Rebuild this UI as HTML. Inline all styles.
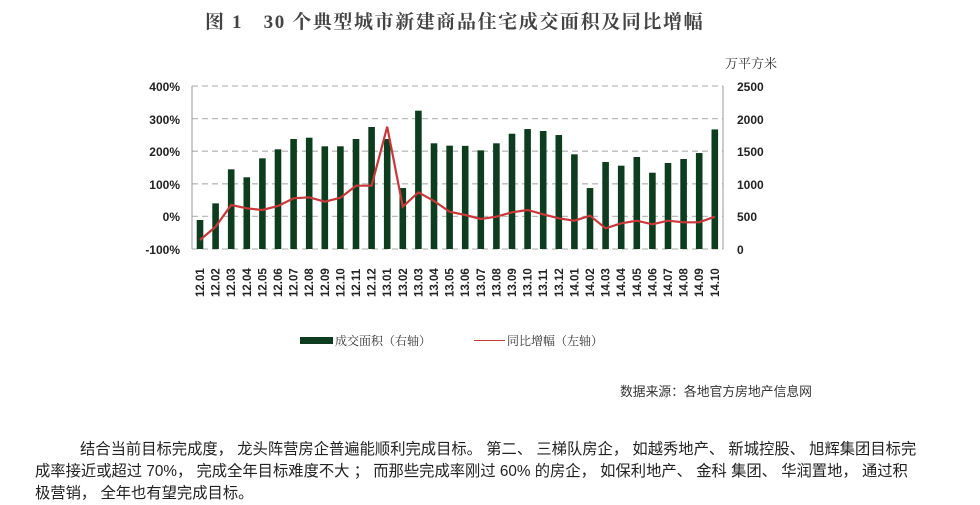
<!DOCTYPE html>
<html><head><meta charset="utf-8"><style>
body{margin:0;background:#fff;width:980px;height:504px;overflow:hidden}
svg{position:absolute;left:0;top:0}
.p{position:absolute;left:35px;width:960px;font:15.3px "Liberation Sans","Noto Sans CJK SC",sans-serif;color:#222;line-height:22px;white-space:nowrap}
</style></head><body>
<svg width="980" height="504" xmlns="http://www.w3.org/2000/svg" font-family="Liberation Sans, Noto Sans CJK SC, sans-serif">
<text x="205" y="28" font-family="Liberation Serif, Noto Serif CJK SC, serif" font-size="19" font-weight="bold" fill="#444" letter-spacing="1.6">图 1　30 个典型城市新建商品住宅成交面积及同比增幅</text>
<text x="725" y="68" font-family="Liberation Serif, Noto Serif CJK SC, serif" font-size="13" fill="#333">万平方米</text>
<g stroke="#bbb" stroke-dasharray="6,4" stroke-width="1.3">
<line x1="192" y1="86" x2="723" y2="86"/><line x1="192" y1="118.6" x2="723" y2="118.6"/><line x1="192" y1="151.2" x2="723" y2="151.2"/><line x1="192" y1="183.8" x2="723" y2="183.8"/><line x1="192" y1="216.4" x2="723" y2="216.4"/><line x1="192" y1="249" x2="723" y2="249"/>
</g>
<line x1="192" y1="86" x2="192" y2="249" stroke="#999"/>
<line x1="723" y1="86" x2="723" y2="249" stroke="#999"/>
<g font-size="12" font-weight="bold" fill="#222" text-anchor="end">
<text x="180" y="91">400%</text><text x="180" y="124">300%</text><text x="180" y="156">200%</text><text x="180" y="189">100%</text><text x="180" y="221">0%</text><text x="180" y="254">-100%</text>
</g>
<g font-size="12" font-weight="bold" fill="#222">
<text x="737" y="91">2500</text><text x="737" y="124">2000</text><text x="737" y="156">1500</text><text x="737" y="189">1000</text><text x="737" y="221">500</text><text x="737" y="254">0</text>
</g>
<g id="bars" fill="#0d3d1e"></g>
<polyline id="ln" fill="none" stroke="#c8383a" stroke-width="2.2"/>
<g id="lbl" font-size="11.5" font-weight="bold" fill="#222"></g>
<rect x="300" y="337" width="33" height="7" fill="#0d3d1e"/>
<text x="335" y="345" font-family="Liberation Serif, Noto Serif CJK SC, serif" font-size="12" fill="#333">成交面积（右轴）</text>
<line x1="474" y1="340.5" x2="505" y2="340.5" stroke="#c8383a" stroke-width="1"/>
<text x="507" y="345" font-family="Liberation Serif, Noto Serif CJK SC, serif" font-size="12" fill="#333">同比增幅（左轴）</text>
<text x="620" y="396" font-size="12.8" fill="#333">数据来源：各地官方房地产信息网</text>
</svg>
<div class="p" style="top:439px;left:80px">结合当前目标完成度， 龙头阵营房企普遍能顺利完成目标。 第二、 三梯队房企， 如越秀地产、 新城控股、 旭辉集团目标完</div>
<div class="p" style="top:461px">成率接近或超过 70%， 完成全年目标难度不大 ； 而那些完成率刚过 60% 的房企， 如保利地产、 金科 集团、 华润置地， 通过积</div>
<div class="p" style="top:483px">极营销， 全年也有望完成目标。</div>
<script>
var v=[445,700,1222,1100,1391,1529,1687,1707,1575,1575,1687,1871,1687,935,2121,1621,1585,1582,1513,1621,1768,1840,1810,1748,1452,935,1334,1278,1411,1170,1319,1380,1472,1834];
var ly=[240,226.7,205,208.3,210,206,198.3,197.3,201.7,197.7,185.7,185.7,126.7,206.7,192.3,201,211.7,215,219,216.7,212.3,210,214.3,218.3,220.7,215.7,228.3,223.3,220.7,224.3,220.7,222.3,222.3,216.7];
var b=document.getElementById('bars'),l=document.getElementById('lbl'),pts=[],ns='http://www.w3.org/2000/svg';
for(var i=0;i<34;i++){var cx=200+i*15.6;var h=v[i]/2500*163;
var r=document.createElementNS(ns,'rect');r.setAttribute('x',cx-3.3);r.setAttribute('y',249-h);r.setAttribute('width',6.6);r.setAttribute('height',h);b.appendChild(r);
pts.push(cx+','+ly[i]);
var y=12+Math.floor(i/12),m=i%12+1;var t=document.createElementNS(ns,'text');t.setAttribute('transform','translate('+(cx+4)+',297) rotate(-90)');t.textContent=y+'.'+(m<10?'0':'')+m;l.appendChild(t);}
document.getElementById('ln').setAttribute('points',pts.join(' '));
</script>
</body></html>
